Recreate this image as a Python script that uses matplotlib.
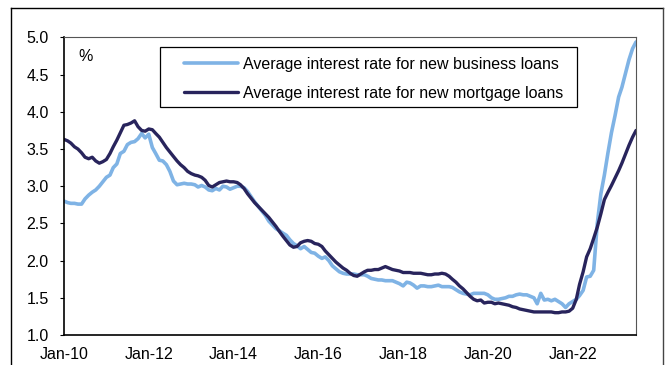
import matplotlib
matplotlib.use("Agg")
import matplotlib.pyplot as plt
import matplotlib.dates as mdates
from matplotlib.lines import Line2D
from matplotlib.patches import Rectangle
import pandas as pd

plt.rcParams['font.family'] = ['Liberation Sans', 'DejaVu Sans']

# monthly values, Jan-2010 .. Jul-2023
start_month = '2010-01-01'

business = [
    2.80, 2.78, 2.77, 2.77, 2.76, 2.76, 2.83, 2.88, 2.92, 2.95,
    3.00, 3.06, 3.12, 3.15, 3.25, 3.30, 3.44, 3.47, 3.56, 3.59,
    3.60, 3.64, 3.71, 3.65, 3.70, 3.52, 3.44, 3.35, 3.34, 3.29,
    3.20, 3.07, 3.02, 3.03, 3.04, 3.03, 3.03, 3.02, 2.99, 3.01,
    2.99, 2.95, 2.94, 2.97, 2.95, 3.00, 2.99, 2.96, 2.98, 3.00,
    3.00, 2.98, 2.93, 2.86, 2.79, 2.73, 2.67, 2.61, 2.53, 2.48,
    2.43, 2.40, 2.37, 2.34, 2.28, 2.23, 2.20, 2.16, 2.19, 2.15,
    2.11, 2.10, 2.06, 2.03, 2.05, 2.00, 1.93, 1.89, 1.85, 1.83,
    1.82, 1.82, 1.82, 1.81, 1.81, 1.81, 1.79, 1.76, 1.75, 1.74,
    1.74, 1.73, 1.73, 1.73, 1.71, 1.69, 1.66, 1.71, 1.70, 1.67,
    1.63, 1.66, 1.66, 1.65, 1.65, 1.66, 1.67, 1.65, 1.65, 1.65,
    1.64, 1.61, 1.58, 1.56, 1.55, 1.54, 1.56, 1.56, 1.56, 1.56,
    1.54, 1.50, 1.48, 1.48, 1.49, 1.50, 1.52, 1.52, 1.54, 1.55,
    1.54, 1.54, 1.52, 1.50, 1.42, 1.56, 1.47, 1.48, 1.46, 1.48,
    1.45, 1.42, 1.37, 1.42, 1.45, 1.48, 1.53, 1.60, 1.78, 1.79,
    1.87, 2.50, 2.90, 3.15, 3.45, 3.72, 3.95, 4.20, 4.33, 4.52,
    4.70, 4.85, 4.94,
]

mortgage = [
    3.63, 3.61, 3.58, 3.53, 3.50, 3.45, 3.39, 3.37, 3.39, 3.34,
    3.31, 3.33, 3.36, 3.44, 3.53, 3.62, 3.72, 3.82, 3.83, 3.85,
    3.88, 3.80, 3.75, 3.74, 3.77, 3.76, 3.71, 3.66, 3.59, 3.52,
    3.46, 3.40, 3.34, 3.29, 3.25, 3.20, 3.17, 3.15, 3.14, 3.12,
    3.08, 3.01, 2.99, 3.02, 3.05, 3.06, 3.07, 3.06, 3.06, 3.05,
    3.02, 2.97, 2.90, 2.84, 2.78, 2.73, 2.68, 2.63, 2.58, 2.52,
    2.46, 2.39, 2.33, 2.27, 2.21, 2.18, 2.19, 2.24, 2.26, 2.27,
    2.26, 2.23, 2.22, 2.19, 2.13, 2.08, 2.03, 1.98, 1.94, 1.90,
    1.87, 1.83, 1.80, 1.79, 1.82, 1.85, 1.87, 1.87, 1.88, 1.88,
    1.90, 1.92, 1.90, 1.88, 1.87, 1.86, 1.84, 1.84, 1.84, 1.83,
    1.83, 1.83, 1.82, 1.81, 1.81, 1.82, 1.82, 1.83, 1.82, 1.79,
    1.75, 1.71, 1.66, 1.62, 1.57, 1.52, 1.48, 1.46, 1.47, 1.43,
    1.44, 1.44, 1.42, 1.43, 1.42, 1.41, 1.40, 1.38, 1.37, 1.35,
    1.34, 1.33, 1.32, 1.31, 1.31, 1.31, 1.31, 1.31, 1.31, 1.30,
    1.30, 1.31, 1.31, 1.32, 1.36, 1.48, 1.68, 1.85, 2.05, 2.16,
    2.30, 2.45, 2.63, 2.82, 2.92, 3.01, 3.11, 3.21, 3.31, 3.43,
    3.55, 3.66, 3.75,
]

labels = ['Average interest rate for new business loans',
          'Average interest rate for new mortgage loans']
y_ticks = [1.0, 1.5, 2.0, 2.5, 3.0, 3.5, 4.0, 4.5, 5.0]

dates = pd.date_range(start_month, periods=len(business), freq='MS')

light = '#7fb3e5'
dark = '#28245c'

fig = plt.figure(figsize=(6.67, 3.65), dpi=100)
ax = fig.add_axes([0.096, 0.0822, 0.8576, 0.8151])

ax.plot(dates, business, color=light, lw=2.6, label=labels[0],
        solid_joinstyle='round', solid_capstyle='round')
ax.plot(dates, mortgage, color=dark, lw=2.4, label=labels[1],
        solid_joinstyle='round', solid_capstyle='round')

ax.set_xlim(dates[0], pd.Timestamp('2023-07-01'))
ax.set_ylim(1.0, 5.0)
ax.set_yticks(y_ticks)
ax.set_yticklabels([f'{v:.1f}' for v in y_ticks])

ax.xaxis.set_major_locator(mdates.YearLocator(2, month=1, day=1))
ax.xaxis.set_major_formatter(mdates.DateFormatter('%b-%y'))

ax.tick_params(axis='x', length=0, pad=9, labelsize=11.5, colors='black')
ax.tick_params(axis='y', length=3, width=0.8, direction='out', pad=8,
               labelsize=11.5, colors='black')

for side in ['left', 'bottom']:
    ax.spines[side].set_color('black')
    ax.spines[side].set_linewidth(1.2)
for side in ['top', 'right']:
    ax.spines[side].set_color('#555555')
    ax.spines[side].set_linewidth(0.8)

ax.text(0.118, 0.845, '%', transform=fig.transFigure, fontsize=11.5,
        va='center', ha='left')

# legend box
fig.patches.append(Rectangle((0.2399, 0.7068), 0.6252, 0.1644,
                             transform=fig.transFigure, fill=False,
                             edgecolor='black', lw=0.9, zorder=5))
ax.legend(loc='upper left', bbox_to_anchor=(0.2759, 0.845),
          bbox_transform=fig.transFigure, frameon=False, borderpad=0,
          handlelength=3.4, handletextpad=0.3, labelspacing=0.9,
          fontsize=11.5, borderaxespad=0)

# outer frame of the exhibit
fig.add_artist(Line2D([0.0165, 0.0165], [0.0, 0.978], color='black', lw=1.0,
                      transform=fig.transFigure))
fig.add_artist(Line2D([0.0165, 0.994], [0.978, 0.978], color='black', lw=1.0,
                      transform=fig.transFigure))
fig.add_artist(Line2D([0.994, 0.994], [0.0, 0.978], color='#444444', lw=1.0,
                      transform=fig.transFigure))

fig.savefig('out.png', dpi=100)
